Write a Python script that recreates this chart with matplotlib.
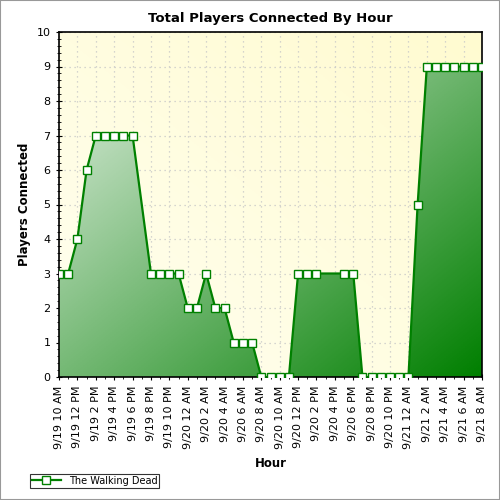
import numpy as np
import matplotlib
matplotlib.use("Agg")
import matplotlib.pyplot as plt
from matplotlib.colors import LinearSegmentedColormap
from matplotlib.lines import Line2D

# hourly values, 9/19 10 AM .. 9/21 8 AM; None = no sample (line interpolates)
values = [3, 3, 4, 6, 7, 7, 7, 7, 7, None, 3, 3, 3, 3, 2, 2, 3, 2, 2, 1, 1, 1,
          0, 0, 0, 0, 3, 3, 3, None, None, 3, 3, 0, 0, 0, 0, 0, 0, 5,
          9, 9, 9, 9, 9, 9, 9]
tick_labels = ["9/19 10 AM", "9/19 12 PM", "9/19 2 PM", "9/19 4 PM", "9/19 6 PM",
               "9/19 8 PM", "9/19 10 PM", "9/20 12 AM", "9/20 2 AM", "9/20 4 AM",
               "9/20 6 AM", "9/20 8 AM", "9/20 10 AM", "9/20 12 PM", "9/20 2 PM",
               "9/20 4 PM", "9/20 6 PM", "9/20 8 PM", "9/20 10 PM", "9/21 12 AM",
               "9/21 2 AM", "9/21 4 AM", "9/21 6 AM", "9/21 8 AM"]
series_name = "The Walking Dead"

x = np.arange(len(values))
raw = np.array([np.nan if v is None else v for v in values], dtype=float)
known = ~np.isnan(raw)
y = np.interp(x, x[known], raw[known])

fig = plt.figure(figsize=(5, 5), dpi=100)
fig.patch.set_facecolor("white")
ax = fig.add_axes([0.118, 0.246, 0.846, 0.69])
xmax = x[-1]
ax.set_xlim(0, xmax)
ax.set_ylim(0, 10)

# background gradient
bg = LinearSegmentedColormap.from_list("bg", ["#fffff0", "#fffbd0"])
gx, gy = np.meshgrid(np.linspace(0, 1, 200), np.linspace(0, 1, 200))
ax.imshow(gx * 0.5 + gy * 0.5, cmap=bg, extent=[0, xmax, 0, 10], origin="lower",
          aspect="auto", zorder=0)

ax.grid(True, color="#c8c8c8", linestyle=(0, (1, 3)), linewidth=0.9, zorder=1)

# filled area with diagonal gradient
fill = LinearSegmentedColormap.from_list("fill", ["#e8f2e8", "#007f00"])
poly = ax.fill_between(x, y, 0, color="none", zorder=2)
img = ax.imshow(gx * 0.5 + (1 - gy) * 0.5, cmap=fill, extent=[0, xmax, 0, 10],
                origin="lower", aspect="auto", zorder=2)
img.set_clip_path(poly.get_paths()[0], transform=ax.transData)

ax.plot(x, y, color="#008000", linewidth=1.6, zorder=3)
ax.plot(x[known], raw[known], linestyle="none", marker="s", markersize=5.5,
        markerfacecolor="white", markeredgecolor="#008000", markeredgewidth=1,
        zorder=4)

ax.set_yticks(range(0, 11))
ax.set_yticks(np.arange(0, 10.01, 0.2), minor=True)
ax.set_xticks(x[::2])
ax.set_xticks(x, minor=True)
ax.set_xticklabels(tick_labels, rotation=90, fontsize=8)
ax.tick_params(axis="y", labelsize=8)
ax.tick_params(which="major", length=5, direction="inout")
ax.tick_params(which="minor", length=3, direction="inout")
for s in ax.spines.values():
    s.set_linewidth(1.2)

ax.set_title("Total Players Connected By Hour", fontsize=9.5, fontweight="bold", pad=7)
ax.set_xlabel("Hour", fontsize=8.5, fontweight="bold", labelpad=6)
ax.set_ylabel("Players Connected", fontsize=8.5, fontweight="bold")

handle = Line2D([], [], color="#008000", linewidth=1.6, marker="s", markersize=5.5,
                markerfacecolor="white", markeredgecolor="#008000")
leg = fig.legend([handle], [series_name], loc="lower left",
                 bbox_to_anchor=(0.05, 0.015), fontsize=7, frameon=True,
                 fancybox=False, borderpad=0.2, handlelength=3)
leg.get_frame().set_edgecolor("black")
leg.get_frame().set_linewidth(0.8)

fig.add_artist(plt.Rectangle((0, 0), 1, 1, transform=fig.transFigure, fill=False,
                             edgecolor="#999999", linewidth=1.5))

fig.savefig("out.png", dpi=100)
